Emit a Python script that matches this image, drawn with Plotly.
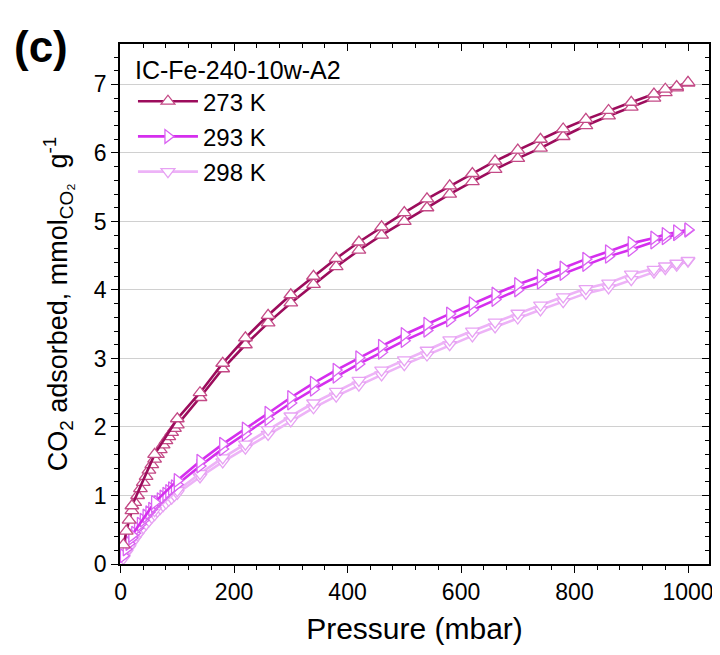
import plotly.graph_objects as go

# ---------------- data ----------------
P_ads = [5, 10, 15, 20, 25, 30, 35, 40, 45, 50, 55, 60, 65, 70, 75, 80, 85, 90, 95, 100,
         140, 180, 220, 260, 300, 340, 380, 420, 460, 500, 540, 580, 620, 660, 700, 740,
         780, 820, 860, 900, 940, 960, 980, 1000]
P_des = [1000, 980, 960, 940, 900, 860, 820, 780, 740, 700, 660, 620, 580, 540, 500, 460,
         420, 380, 340, 300, 260, 220, 180, 140, 100, 60, 20]

q273_ads = [0.28, 0.48, 0.64, 0.78, 0.9, 1.0, 1.1, 1.19, 1.28, 1.37, 1.45, 1.53, 1.6, 1.67,
            1.74, 1.8, 1.86, 1.92, 1.98, 2.03,
            2.43, 2.85, 3.2, 3.52, 3.81, 4.08, 4.34, 4.58, 4.8, 5.0, 5.2, 5.4, 5.58, 5.76,
            5.92, 6.07, 6.24, 6.40, 6.54, 6.67, 6.8, 6.88, 6.95, 7.02]
q273_des = [7.03, 6.97, 6.93, 6.86, 6.74, 6.62, 6.49, 6.35, 6.2, 6.04, 5.88, 5.7, 5.52, 5.33,
            5.13, 4.92, 4.7, 4.46, 4.2, 3.93, 3.63, 3.3, 2.93, 2.5, 2.12, 1.6, 0.85]

q293_ads = [0.12, 0.22, 0.3, 0.38, 0.45, 0.52, 0.58, 0.64, 0.7, 0.75, 0.8, 0.85, 0.9, 0.94,
            0.98, 1.02, 1.06, 1.1, 1.13, 1.16,
            1.43, 1.68, 1.9, 2.12, 2.35, 2.55, 2.74, 2.92, 3.09, 3.26, 3.41, 3.56, 3.71, 3.86,
            4.0, 4.11, 4.24, 4.37, 4.49, 4.59, 4.7, 4.76, 4.82, 4.87]
q293_des = [4.88, 4.85, 4.81, 4.76, 4.68, 4.56, 4.45, 4.32, 4.2, 4.08, 3.94, 3.8, 3.65, 3.5,
            3.35, 3.18, 3.01, 2.83, 2.64, 2.43, 2.2, 1.97, 1.75, 1.5, 1.22, 0.9, 0.42]

q298_ads = [0.08, 0.16, 0.23, 0.3, 0.36, 0.42, 0.48, 0.53, 0.58, 0.63, 0.68, 0.72, 0.77, 0.81,
            0.85, 0.89, 0.93, 0.96, 1.0, 1.03,
            1.27, 1.49, 1.69, 1.89, 2.09, 2.28, 2.45, 2.61, 2.76, 2.91, 3.05, 3.2, 3.33, 3.46,
            3.59, 3.71, 3.83, 3.95, 4.03, 4.15, 4.26, 4.31, 4.36, 4.42]
q298_des = [4.43, 4.39, 4.35, 4.3, 4.23, 4.1, 4.02, 3.9, 3.78, 3.66, 3.53, 3.4, 3.27, 3.12,
            2.98, 2.83, 2.68, 2.52, 2.35, 2.16, 1.96, 1.75, 1.55, 1.32, 1.07, 0.78, 0.36]

series_names = ["273 K", "293 K", "298 K"]
legend_title = "IC-Fe-240-10w-A2"
x_ticks = [0, 200, 400, 600, 800, 1000]
y_ticks = [0, 1, 2, 3, 4, 5, 6, 7]

# ---------------- style ----------------
FONT = "Arial, Liberation Sans, sans-serif"
styles = {
    "273 K": dict(line="#9C0C5C", edge="#C44A86", symbol="triangle-up", rank=1),
    "293 K": dict(line="#D52EEE", edge="#DA62F2", symbol="triangle-right", rank=2),
    "298 K": dict(line="#EDB3F7", edge="#E7A2F3", symbol="triangle-down", rank=3),
}
data = {
    "273 K": (q273_ads, q273_des),
    "293 K": (q293_ads, q293_des),
    "298 K": (q298_ads, q298_des),
}

fig = go.Figure()
for name in ["298 K", "293 K", "273 K"]:
    st = styles[name]
    ads, des = data[name]
    for i, (px, qy) in enumerate([(P_ads, ads), (P_des, des)]):
        fig.add_trace(go.Scatter(
            x=px, y=qy, mode="lines+markers", name=name,
            legendgroup=name, showlegend=(i == 0), legendrank=st["rank"],
            line=dict(color=st["line"], width=2.6),
            marker=dict(symbol=st["symbol"], size=12, color="white",
                        line=dict(color=st["edge"], width=1.3)),
        ))

# dummy trace to carry the mirrored (inside-tick) top/right axes
fig.add_trace(go.Scatter(x=[None], y=[None], xaxis="x2", yaxis="y2",
                         showlegend=False, hoverinfo="skip"))

XR = [-1, 1037]
YR = [0, 7.59]

fig.update_layout(
    width=712, height=647,
    margin=dict(l=111.5, r=7, t=36, b=90.5),
    paper_bgcolor="white", plot_bgcolor="white",
    font=dict(family=FONT, color="black"),
    showlegend=True,
    legend=dict(
        x=0.022, y=0.995, xanchor="left", yanchor="top",
        bgcolor="rgba(0,0,0,0)",
        title=dict(text=legend_title, font=dict(size=25, family=FONT)),
        font=dict(size=24, family=FONT),
        traceorder="grouped", tracegroupgap=1,
        itemwidth=60,
    ),
    xaxis=dict(
        range=XR, tickvals=x_ticks, ticktext=[str(v) for v in x_ticks],
        ticks="outside", ticklen=7, tickwidth=1.3, tickcolor="black",
        minor=dict(dtick=40, tick0=0, ticks="outside", ticklen=4, tickwidth=1.2, tickcolor="black"),
        showline=True, linecolor="black", linewidth=1.5, mirror=True,
        showgrid=False, zeroline=False,
        tickfont=dict(size=23, family=FONT),
        title=dict(text="Pressure (mbar)", font=dict(size=30, family=FONT), standoff=14),
    ),
    yaxis=dict(
        range=YR, tickvals=y_ticks, ticktext=[str(v) for v in y_ticks],
        ticks="outside", ticklen=7, tickwidth=1.3, tickcolor="black",
        minor=dict(dtick=0.2, tick0=0, ticks="outside", ticklen=4, tickwidth=1.2, tickcolor="black",
                   showgrid=False),
        showline=True, linecolor="black", linewidth=1.5, mirror=True,
        showgrid=True, gridcolor="#d0d0d0", gridwidth=1.2, zeroline=False,
        tickfont=dict(size=23, family=FONT),
        title=dict(text="CO<sub>2</sub> adsorbed, mmol<sub>CO₂</sub>  g<sup>-1</sup>",
                   font=dict(size=27, family=FONT), standoff=18),
    ),
    xaxis2=dict(
        overlaying="x", side="top", anchor="y", range=XR,
        tickvals=x_ticks, showticklabels=False,
        ticks="inside", ticklen=7, tickwidth=1.3, tickcolor="black",
        minor=dict(dtick=40, tick0=0, ticks="inside", ticklen=4, tickwidth=1.2, tickcolor="black"),
        showline=False, showgrid=False, zeroline=False,
    ),
    yaxis2=dict(
        overlaying="y", side="right", anchor="x", range=YR,
        tickvals=y_ticks, showticklabels=False,
        ticks="inside", ticklen=7, tickwidth=1.3, tickcolor="black",
        minor=dict(dtick=0.2, tick0=0, ticks="inside", ticklen=4, tickwidth=1.2, tickcolor="black"),
        showline=False, showgrid=False, zeroline=False,
    ),
    annotations=[dict(
        text="<b>(c)</b>", xref="paper", yref="paper",
        x=-0.183, y=0.996, xanchor="left", yanchor="middle",
        showarrow=False, font=dict(size=44, family=FONT, color="black"),
    )],
)

fig.write_html("out.html")
